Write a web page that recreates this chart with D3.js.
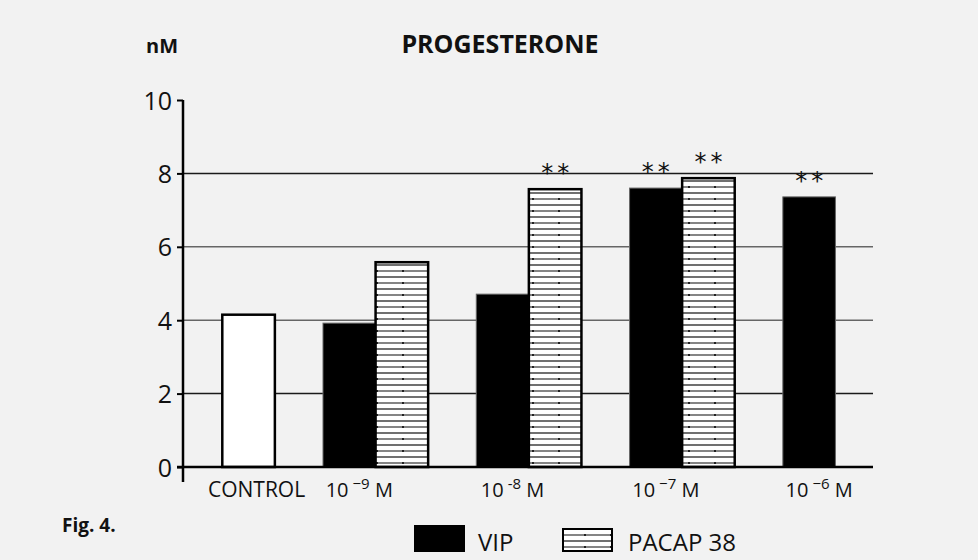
<!DOCTYPE html>
<html>
<head>
<meta charset="utf-8">
<script src="https://cdn.jsdelivr.net/npm/d3@7"></script>
<style>
  body { margin: 0; background: #f2f2f2; }
  svg { display: block; font-family: "Open Sans", sans-serif; }
</style>
</head>
<body>
<div id="container"></div>
<script>
/* DATA */
const doses = ["-9", "-8", "-7", "-6"];
const controlValue = 4.15;
const vipValues = [3.92, 4.71, 7.6, 7.36];
const pacapValues = [5.58, 7.57, 7.87, null];
const vipStars = [false, false, true, true];
const pacapStars = [false, true, true, false];
const yTicks = [0, 2, 4, 6, 8, 10];
const series = ["VIP", "PACAP 38"];

/* CONSTANTS */
const width = 978, height = 560;
const margin = { top: 100, left: 183, right: 105, bottom: 93 };

const svg = d3.select("#container").append("svg")
  .attr("width", width)
  .attr("height", height)
  .style("background-color", "#f2f2f2");

// hatch for PACAP bars
const pat = svg.append("defs").append("pattern")
  .attr("id", "hatch")
  .attr("patternUnits", "userSpaceOnUse")
  .attr("width", 26).attr("height", 12);
pat.append("rect").attr("width", 26).attr("height", 12).attr("fill", "#fff");
pat.append("line").attr("x1", 0).attr("x2", 26).attr("y1", 1).attr("y2", 1)
  .attr("stroke", "#111").attr("stroke-width", 1.2);
pat.append("line").attr("x1", 0).attr("x2", 26).attr("y1", 7).attr("y2", 7)
  .attr("stroke", "#666").attr("stroke-width", 1.6);
pat.append("rect").attr("x", 12).attr("y", 6).attr("width", 2).attr("height", 2).attr("fill", "#222");

/* SCALES */
const yScale = d3.scaleLinear()
  .domain([0, 10])
  .range([height - margin.bottom, margin.top]);

const xScale = d3.scaleBand()
  .domain(doses)
  .range([323, 888])
  .paddingInner(0.314)
  .paddingOuter(0);

const xInner = d3.scaleBand()
  .domain(series)
  .range([0, xScale.bandwidth()]);

const barW = xInner.bandwidth();
const gap = xScale.step() - xScale.bandwidth();
const controlX = xScale(doses[0]) - gap - barW;

/* GRID */
svg.append("g")
  .selectAll("line")
  .data(yTicks.filter(d => d > 0 && d < 10))
  .join("line")
  .attr("x1", margin.left)
  .attr("x2", width - margin.right)
  .attr("y1", d => yScale(d))
  .attr("y2", d => yScale(d))
  .attr("stroke", d => (d === 4 || d === 6) ? "#666" : "#1a1a1a")
  .attr("stroke-width", 1.5);

/* BARS */
svg.append("rect")
  .attr("x", controlX)
  .attr("y", yScale(controlValue))
  .attr("width", barW)
  .attr("height", yScale(0) - yScale(controlValue))
  .attr("fill", "#fff")
  .attr("stroke", "#000")
  .attr("stroke-width", 2.5);

const vipData = doses.map((d, i) => ({ dose: d, v: vipValues[i], star: vipStars[i] }));
const pacapData = doses.map((d, i) => ({ dose: d, v: pacapValues[i], star: pacapStars[i] }))
  .filter(d => d.v !== null);

svg.append("g").selectAll("rect")
  .data(vipData)
  .join("rect")
  .attr("x", d => xScale(d.dose) + xInner("VIP"))
  .attr("y", d => yScale(d.v))
  .attr("width", barW)
  .attr("height", d => yScale(0) - yScale(d.v))
  .attr("fill", "#000")
  .attr("stroke", "#666")
  .attr("stroke-width", 1);

svg.append("g").selectAll("rect")
  .data(pacapData)
  .join("rect")
  .attr("x", d => xScale(d.dose) + xInner("PACAP 38"))
  .attr("y", d => yScale(d.v))
  .attr("width", barW)
  .attr("height", d => yScale(0) - yScale(d.v))
  .attr("fill", "url(#hatch)")
  .attr("stroke", "#000")
  .attr("stroke-width", 2.5);

// significance stars, two per marked bar
const stars = vipData.filter(d => d.star).map(d => ({ x: xScale(d.dose) + xInner("VIP") + barW / 2, v: d.v }))
  .concat(pacapData.filter(d => d.star).map(d => ({ x: xScale(d.dose) + xInner("PACAP 38") + barW / 2, v: d.v })));

svg.append("g").selectAll("text")
  .data(stars.flatMap(d => [{ x: d.x - 8, v: d.v }, { x: d.x + 8, v: d.v }]))
  .join("text")
  .attr("x", d => d.x)
  .attr("y", d => yScale(d.v) - 8)
  .attr("text-anchor", "middle")
  .attr("font-family", "DejaVu Sans")
  .attr("font-size", 24)
  .attr("fill", "#111")
  .text("*");

/* AXES */
const yAxis = d3.axisLeft(yScale).tickValues(yTicks).tickSize(6).tickPadding(5);
const yG = svg.append("g")
  .attr("transform", `translate(${margin.left},0)`)
  .call(yAxis);
yG.select(".domain").remove();
yG.selectAll(".tick line").attr("stroke", "#000").attr("stroke-width", 2);
yG.selectAll(".tick text")
  .attr("font-size", 25)
  .attr("font-family", "Open Sans")
  .attr("fill", "#111")
  .attr("dy", "0.36em");

// axis lines
svg.append("line")
  .attr("x1", margin.left).attr("x2", margin.left)
  .attr("y1", yScale(10)).attr("y2", yScale(0) + 15)
  .attr("stroke", "#000").attr("stroke-width", 2.5);
svg.append("line")
  .attr("x1", margin.left - 6).attr("x2", width - margin.right)
  .attr("y1", yScale(0)).attr("y2", yScale(0))
  .attr("stroke", "#000").attr("stroke-width", 2.5);

/* X LABELS */
const labelY = 497;
svg.append("text")
  .attr("x", controlX + barW / 2 + 8)
  .attr("y", labelY)
  .attr("text-anchor", "middle")
  .attr("font-size", 21)
  .attr("fill", "#111")
  .text("CONTROL");

const xl = svg.append("g").selectAll("text")
  .data(doses)
  .join("text")
  .attr("x", d => xScale(d) + xInner("VIP") + barW / 2 + 10)
  .attr("y", labelY)
  .attr("text-anchor", "middle")
  .attr("font-size", 20)
  .attr("fill", "#111");
xl.append("tspan").text("10");
xl.append("tspan")
  .attr("dx", 4)
  .attr("dy", -8)
  .attr("font-size", 15)
  .text(d => d === "-8" ? d : "\u2212" + d.slice(1));
xl.append("tspan").attr("dy", 8).text(" M");

/* TITLES */
svg.append("text")
  .attr("x", 146).attr("y", 53)
  .attr("font-size", 20).attr("font-weight", "bold").attr("fill", "#111")
  .text("nM");
svg.append("text")
  .attr("x", 500).attr("y", 53)
  .attr("text-anchor", "middle")
  .attr("font-size", 25).attr("font-weight", "bold").attr("fill", "#111")
  .text("PROGESTERONE");
svg.append("text")
  .attr("x", 62).attr("y", 532)
  .attr("font-size", 19).attr("font-weight", "bold").attr("fill", "#111")
  .text("Fig. 4.");

/* LEGEND */
const legend = svg.append("g");
legend.append("rect")
  .attr("x", 414).attr("y", 525).attr("width", 51).attr("height", 27)
  .attr("fill", "#000");
legend.append("text")
  .attr("x", 478).attr("y", 551)
  .attr("font-size", 24).attr("fill", "#111")
  .text(series[0]);
legend.append("rect")
  .attr("x", 563).attr("y", 529).attr("width", 49).attr("height", 22)
  .attr("fill", "url(#hatch)")
  .attr("stroke", "#000").attr("stroke-width", 2);
legend.append("text")
  .attr("x", 628).attr("y", 551)
  .attr("font-size", 24).attr("fill", "#111")
  .text(series[1]);
</script>
</body>
</html>
